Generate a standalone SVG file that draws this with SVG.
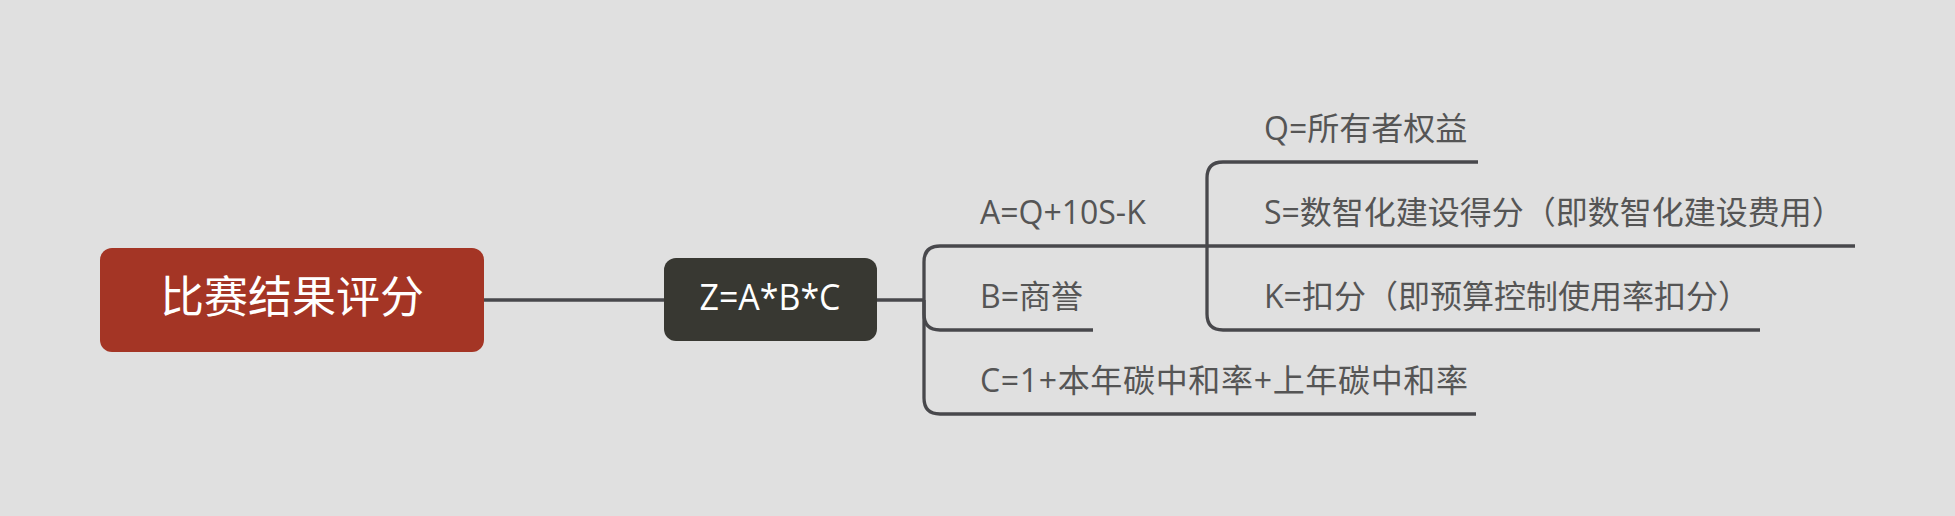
<svg xmlns="http://www.w3.org/2000/svg" width="1955" height="516" viewBox="0 0 1955 516">
<style>
.conn{fill:none;stroke:#48484c;stroke-width:3.3;stroke-linecap:butt}
.lbl{font-family:"Open Sans","Noto Sans CJK SC",sans-serif;font-size:32px;fill:#555555}
.wt{fill:#ffffff}
</style>
<rect x="0" y="0" width="1955" height="516" fill="#e0e0e0"/>
<g id="connectors">
<path class="conn" d="M484 300H664"/>
<path class="conn" d="M877 300H924"/>
<path class="conn" d="M924 300V262Q924 246 940 246H1207"/>
<path class="conn" d="M924 300V314Q924 330 940 330H1093"/>
<path class="conn" d="M924 300V398Q924 414 940 414H1476"/>
<path class="conn" d="M1207 246V178Q1207 162 1223 162H1478"/>
<path class="conn" d="M1207 246H1855"/>
<path class="conn" d="M1207 246V314Q1207 330 1223 330H1760"/>
</g>
<g id="root">
<rect x="100" y="248" width="384" height="104" rx="12" fill="#a43525"/>
<text class="wt" x="292" y="313" text-anchor="middle" font-family="'Noto Sans CJK SC',sans-serif" font-size="44">比赛结果评分</text>
</g>
<g id="z">
<rect x="664" y="258" width="213" height="83" rx="12" fill="#383832"/>
<text class="wt" x="770" y="310" text-anchor="middle" font-family="'Open Sans','Noto Sans CJK SC',sans-serif" font-size="36" textLength="141" lengthAdjust="spacingAndGlyphs">Z=A*B*C</text>
</g>
<g id="a"><text class="lbl" x="980" y="224">A=Q+10S-K</text></g>
<g id="b"><text class="lbl" x="980" y="308">B=商誉</text></g>
<g id="c"><text class="lbl" x="980" y="392" textLength="488">C=1+本年碳中和率+上年碳中和率</text></g>
<g id="q"><text class="lbl" x="1264" y="140">Q=所有者权益</text></g>
<g id="s"><text class="lbl" x="1264" y="224">S=数智化建设得分（即数智化建设费用）</text></g>
<g id="k"><text class="lbl" x="1264" y="308">K=扣分（即预算控制使用率扣分）</text></g>
</svg>
